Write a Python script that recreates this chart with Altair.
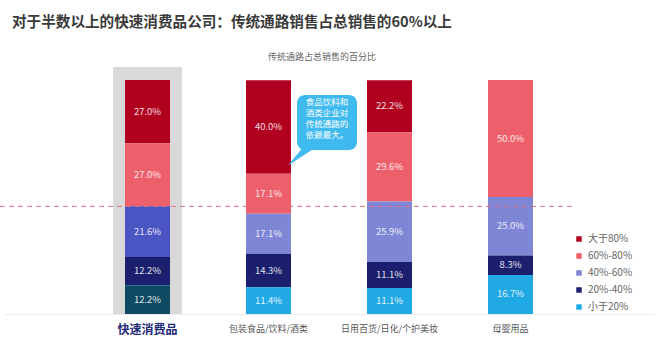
import altair as alt
import pandas as pd

FONT = "Noto Sans CJK SC"

categories = ["快速消费品", "包装食品/饮料/酒类", "日用百货/日化/个护美妆", "母婴用品"]
tiers = ["大于80%", "60%-80%", "40%-60%", "20%-40%", "小于20%"]
fmcg = [27.0, 27.0, 21.6, 12.2, 12.2]
food = [40.0, 17.1, 17.1, 14.3, 11.4]
daily = [22.2, 29.6, 25.9, 11.1, 11.1]
baby = [0.0, 50.0, 25.0, 8.3, 16.7]
threshold = [46.0]
title_text = "对于半数以上的快速消费品公司：传统通路销售占总销售的60%以上"
subtitle_text = "传统通路占总销售的百分比"
callout_lines = ["食品饮料和", "酒类企业对", "传统通路的", "依赖最大。"]

tier_colors = ["#b1001f", "#ee5f6c", "#7f86d6", "#1c1f6e", "#20a9e5"]

rows = []
for cat, vals in zip(categories, [fmcg, food, daily, baby]):
    for i, (t, v) in enumerate(zip(tiers, vals)):
        rows.append({"category": cat, "tier": t, "value": v, "ord": len(tiers) - 1 - i})
df = pd.DataFrame(rows)

xenc = alt.X(
    "category:N",
    scale=alt.Scale(domain=categories, paddingInner=0.628, paddingOuter=1, align=0.5),
    sort=categories,
    axis=alt.Axis(
        title=None, labelAngle=0, ticks=False, domainColor="#ececec",
        labelFont=FONT, labelPadding=10, labelLimit=300,
        labelFontSize={"condition": {"test": "datum.value === '快速消费品'", "value": 12}, "value": 9},
        labelFontWeight={"condition": {"test": "datum.value === '快速消费品'", "value": "bold"}, "value": "normal"},
        labelColor={"condition": {"test": "datum.value === '快速消费品'", "value": "#1f2a78"}, "value": "#555555"},
    ),
)
yscale = alt.Scale(domain=[0, 100], nice=False, zero=True)

base = alt.Chart(df).transform_stack(
    stack="value", as_=["y0", "y1"], groupby=["category"],
    sort=[alt.SortField("ord", order="ascending")],
).transform_calculate(
    mid="(datum.y0 + datum.y1) / 2",
    label="format(datum.value, '.1f') + '%'",
)

bg = alt.Chart(pd.DataFrame({"category": [categories[0]]})).mark_bar(size=69, color="#d9d9d9").encode(
    x=xenc, y=alt.value(-13), y2=alt.value(234)
)

bars = base.mark_bar().encode(
    x=xenc,
    y=alt.Y("y0:Q", scale=yscale, axis=None),
    y2="y1:Q",
    color=alt.Color(
        "tier:N",
        scale=alt.Scale(domain=tiers, range=tier_colors),
        legend=alt.Legend(
            title=None, orient="none", legendX=570, legendY=154, symbolType="square",
            symbolSize=30, labelFont=FONT, labelFontSize=10, labelColor="#666666",
            rowPadding=7, symbolStrokeWidth=0,
        ),
    ),
)

hl = base.transform_filter(
    (alt.datum.category == categories[0]) & ((alt.datum.tier == "40%-60%") | (alt.datum.tier == "小于20%"))
).transform_calculate(
    hc="datum.tier === '40%-60%' ? '#4a54c2' : '#0e4b63'"
).mark_bar().encode(
    x=xenc, y=alt.Y("y0:Q", scale=yscale, axis=None), y2="y1:Q",
    color=alt.Color("hc:N", scale=None),
)

labels = base.transform_filter(alt.datum.value > 0).mark_text(
    font=FONT, fontSize=9.5, color="white", opacity=0.85
).encode(x=xenc, y=alt.Y("mid:Q", scale=yscale, axis=None), text="label:N")

rule = alt.Chart(pd.DataFrame({"v": threshold})).mark_rule(
    color="#e0707c", strokeDash=[5, 4], strokeWidth=1
).encode(y=alt.Y("v:Q", scale=yscale, axis=None), x=alt.value(-4), x2=alt.value(568))

one = pd.DataFrame({"a": [0]})
box = alt.Chart(one).mark_rect(cornerRadius=8, color="#3fbaee").encode(
    x=alt.value(293), x2=alt.value(353), y=alt.value(15), y2=alt.value(70)
)
tail = alt.Chart(one).mark_point(
    shape="M -1 0.654 L 0.077 -0.654 L 1 -0.654 Z", filled=True, size=676, color="#3fbaee", opacity=1
).encode(x=alt.value(297), y=alt.value(77))
ctext = alt.Chart(pd.DataFrame({"t": ["\n".join(callout_lines)]})).mark_text(
    font=FONT, fontSize=8.5, color="white", align="center", baseline="top", lineBreak="\n", lineHeight=11
).encode(x=alt.value(323), y=alt.value(18), text="t:N")

title = alt.Chart(pd.DataFrame({"t": [title_text]})).mark_text(
    font=FONT, fontSize=14.6, fontWeight="bold", color="#3a3a3a", align="left", baseline="middle"
).encode(x=alt.value(8), y=alt.value(-57), text="t:N")
subtitle = alt.Chart(pd.DataFrame({"t": [subtitle_text]})).mark_text(
    font=FONT, fontSize=9, color="#666666", align="center", baseline="middle"
).encode(x=alt.value(318), y=alt.value(-23), text="t:N")

chart = alt.layer(bg, bars, hl, labels, rule, box, tail, ctext, title, subtitle).properties(
    width=650, height=234,
    background="white",
    autosize=alt.AutoSizeParams(type="none"),
    padding={"left": 4, "top": 80, "right": 9, "bottom": 34},
).configure_view(stroke=None)

chart.save("out.html", embed_options={"renderer": "svg", "actions": False})
